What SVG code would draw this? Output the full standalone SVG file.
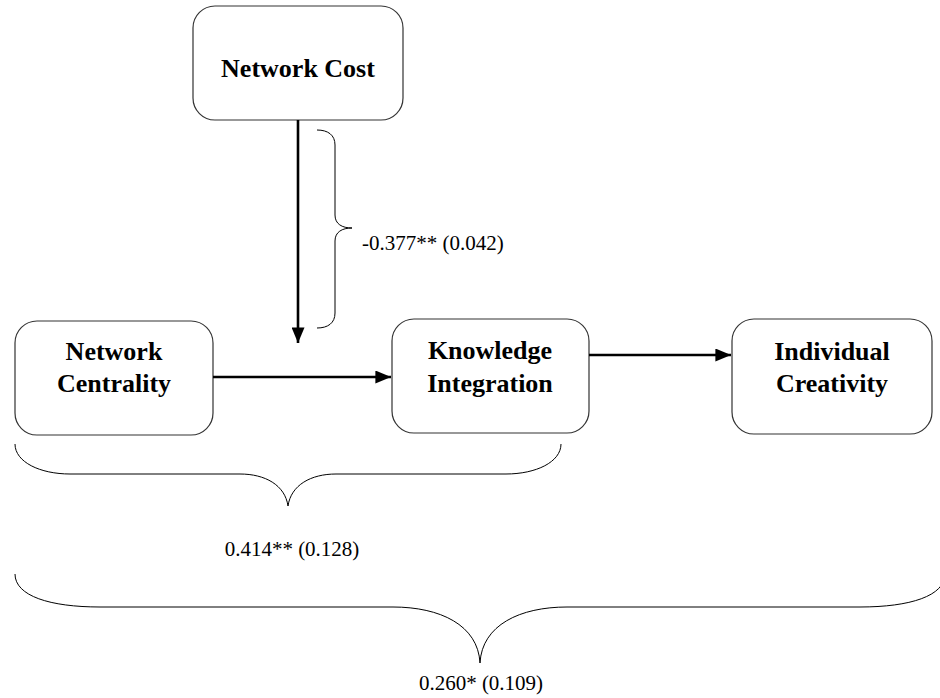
<svg xmlns="http://www.w3.org/2000/svg" width="940" height="698" viewBox="0 0 940 698">
<style>
.box{fill:#fff;stroke:#333;stroke-width:1.2}
.bt{font-family:"Liberation Serif","Times New Roman",serif;font-weight:bold;font-size:26px;text-anchor:middle;fill:#000}
.lb{font-family:"Liberation Serif","Times New Roman",serif;font-size:21px;fill:#000}
.arr{stroke:#000;stroke-width:2.6;fill:none}
.br{stroke:#000;stroke-width:1;fill:none}
</style>
<defs>
<marker id="ah" markerWidth="6" markerHeight="5" refX="6" refY="2.5" orient="auto" markerUnits="strokeWidth">
<path d="M0,0 L6,2.5 L0,5 Z" fill="#000"/>
</marker>
</defs>
<rect width="940" height="698" fill="#fff"/>
<g id="network-cost">
<rect class="box" x="193" y="6" width="210" height="114" rx="22"/>
<text class="bt" x="298" y="77">Network Cost</text>
</g>
<g id="network-centrality">
<rect class="box" x="15" y="321" width="198" height="114" rx="22"/>
<text class="bt" x="114" y="360">Network</text>
<text class="bt" x="114" y="392">Centrality</text>
</g>
<g id="knowledge-integration">
<rect class="box" x="392" y="319" width="197" height="114" rx="22"/>
<text class="bt" x="490" y="359">Knowledge</text>
<text class="bt" x="490" y="392">Integration</text>
</g>
<g id="individual-creativity">
<rect class="box" x="732" y="319" width="200" height="115" rx="22"/>
<text class="bt" x="832" y="360">Individual</text>
<text class="bt" x="832" y="392">Creativity</text>
</g>
<g id="connectors">
<line class="arr" x1="298" y1="120" x2="298" y2="343" marker-end="url(#ah)"/>
<line class="arr" x1="213" y1="377" x2="391" y2="377" marker-end="url(#ah)"/>
<line class="arr" x1="589" y1="355" x2="731" y2="355" marker-end="url(#ah)"/>
</g>
<g id="braces">
<path class="br" d="M317,130 C328,130 335,135 335,145 L335,215 C335,224 342,228 352,228 C342,228 335,232 335,241 L335,313 C335,323 328,328 317,328"/>
<path class="br" d="M15,444 C15,462 40,474 70,474 L240,474 C265,474 285,485 288,506 C291,485 311,474 336,474 L506,474 C536,474 561,462 561,444"/>
<path class="br" d="M15,574 C15,596 50,607 100,607 L393,607 C440,607 478,625 480,663 C482,625 520,607 567,607 L860,607 C910,607 945,596 945,574"/>
</g>
<g id="labels">
<text class="lb" x="362" y="250">-0.377** (0.042)</text>
<text class="lb" x="292" y="556" text-anchor="middle">0.414** (0.128)</text>
<text class="lb" x="481" y="690" text-anchor="middle">0.260* (0.109)</text>
</g>
</svg>
